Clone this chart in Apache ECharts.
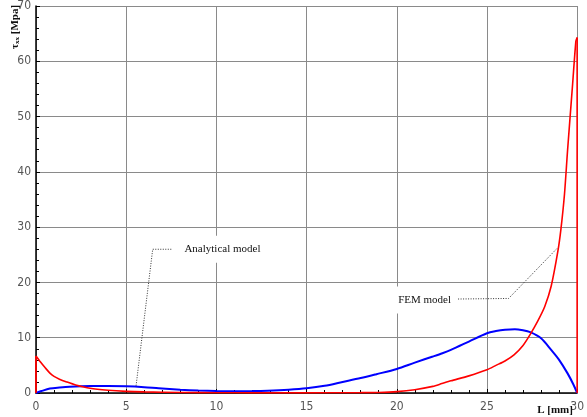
<!DOCTYPE html>
<html>
<head>
<meta charset="utf-8">
<script src="https://cdn.jsdelivr.net/npm/echarts@6/dist/echarts.min.js"></script>
<style>html,body{margin:0;padding:0;background:#fff}#c{width:587px;height:417px}</style>
</head>
<body>
<div id="c"></div>
<script>
// ---- data ----
var xTicks = [0, 5, 10, 15, 20, 25, 30];
var yTicks = [0, 10, 20, 30, 40, 50, 60, 70];

// red curve (L [mm], tau [MPa]) : vertical start, main curve, vertical end
var redStartX = [0, 0];
var redStartY = [0, 6.7];
var redX = [0, 0.25, 0.5, 0.77, 1.0, 1.3, 1.7, 2.2, 3.0, 4.0, 5.0, 6.0, 8.0, 10, 12, 15, 18, 19, 20, 21, 22, 22.5, 23, 24, 25, 25.5, 26, 26.5, 27, 27.4, 27.8, 28.2, 28.56, 28.93, 29.1, 29.3, 29.47, 29.75, 29.93, 30];
var redY = [6.7, 5.6, 4.6, 3.6, 3.0, 2.5, 2.0, 1.45, 0.85, 0.5, 0.3, 0.2, 0.1, 0.05, 0.03, 0.03, 0.06, 0.1, 0.25, 0.6, 1.2, 1.7, 2.2, 3.1, 4.2, 5.0, 5.8, 6.9, 8.6, 10.6, 12.9, 15.6, 19.3, 25.6, 29.6, 36.0, 43.9, 55.9, 63.6, 64.3];
var redEndX = [30, 30];
var redEndY = [64.3, 0];

// blue curve
var blueX = [0, 0.3, 0.77, 1.3, 1.87, 3, 4, 5, 6, 6.8, 8, 9, 10, 11, 12, 12.84, 14, 15, 16, 17, 18, 18.87, 20, 21, 22, 22.53, 23, 24, 25, 25.5, 26, 26.55, 27, 27.4, 28, 28.56, 29, 29.47, 29.8, 30];
var blueY = [0, 0.35, 0.8, 1.0, 1.15, 1.25, 1.25, 1.2, 1.05, 0.85, 0.6, 0.45, 0.36, 0.32, 0.35, 0.42, 0.6, 0.85, 1.3, 2.0, 2.7, 3.4, 4.35, 5.5, 6.6, 7.2, 7.8, 9.3, 10.8, 11.2, 11.45, 11.55, 11.35, 11.0, 9.9, 7.8, 6.0, 3.55, 1.5, 0];

// annotations (data coordinates)
var analyticalText = 'Analytical model';
var analyticalAnchor = [7.95, 26];
var analyticalLeader = [[7.5, 26], [6.47, 26], [5.54, 1.1]];
var femText = 'FEM model';
var femAnchor = [19.8, 16.8];
var femLeader = [[23.4, 17], [26.2, 17.1], [28.9, 26.2]];

function zip(xs, ys) { var o = []; for (var i = 0; i < xs.length; i++) o.push([xs[i], ys[i]]); return o; }

var chart = echarts.init(document.getElementById('c'), null, {renderer: 'canvas'});
var tickFont = {fontFamily: 'Liberation Sans Narrow, DejaVu Sans Condensed, sans-serif', fontSize: 12, color: '#555'};

function line(data, color, width, smooth, z) {
  return {type: 'line', data: data, showSymbol: false, symbol: 'none', smooth: smooth,
    lineStyle: {color: color, width: width}, z: z};
}

chart.setOption({
  animation: false,
  backgroundColor: '#fff',
  grid: {left: 36, right: 4, top: 5, bottom: 24, containLabel: false},
  xAxis: {
    type: 'value', min: xTicks[0], max: xTicks[xTicks.length - 1], interval: 5,
    axisLine: {show: true, onZero: false, lineStyle: {color: '#000', width: 1.5}},
    axisTick: {show: true, inside: true, length: 4, lineStyle: {color: '#000'}},
    minorTick: {show: true, splitNumber: 5, length: 3, lineStyle: {color: '#000'}},
    splitLine: {show: true, lineStyle: {color: '#8a8a8a', width: 1}},
    axisLabel: Object.assign({margin: 8, showMinLabel: true, showMaxLabel: true}, tickFont)
  },
  yAxis: {
    type: 'value', min: yTicks[0], max: yTicks[yTicks.length - 1], interval: 10,
    axisLine: {show: true, onZero: false, lineStyle: {color: '#000', width: 1.5}},
    axisTick: {show: true, inside: true, length: 4, lineStyle: {color: '#000'}},
    minorTick: {show: true, splitNumber: 5, length: 3, lineStyle: {color: '#000'}},
    splitLine: {show: true, lineStyle: {color: '#8a8a8a', width: 1}},
    axisLabel: Object.assign({margin: 5}, tickFont)
  },
  series: [
    line(zip(blueX, blueY), '#0000ff', 2, 0.3, 3),
    line(zip(redStartX, redStartY), '#ff0000', 1.8, false, 4),
    line(zip(redX, redY), '#ff0000', 1.6, 0.25, 4),
    line(zip(redEndX, redEndY), '#ff0000', 1.6, false, 4)
  ]
});

function px(p) { return chart.convertToPixel({gridIndex: 0}, p); }
function leader(pts) {
  return {type: 'polyline', silent: true, z: 20,
    shape: {points: pts.map(px)},
    style: {stroke: '#333', lineWidth: 1, lineDash: [1, 1.5], fill: null}};
}
var aPos = px(analyticalAnchor), fPos = px(femAnchor);
var labelStyle = {fill: '#111', font: '11px "Liberation Serif", "Times New Roman", serif',
  backgroundColor: '#fff', padding: [6, 5, 10, 5], verticalAlign: 'middle', align: 'left'};
var origin = px([0, 0]);
chart.setOption({
  graphic: [
    leader(analyticalLeader),
    leader(femLeader),
    {type: 'text', z: 21, x: aPos[0], y: aPos[1], style: Object.assign({text: analyticalText}, labelStyle)},
    {type: 'text', z: 21, x: fPos[0], y: fPos[1], style: Object.assign({text: femText}, labelStyle)},
    {type: 'text', z: 21, x: 555, y: origin[1] + 17,
     style: {text: 'L [mm]', fill: '#111', font: 'bold 11px "Liberation Serif", serif', align: 'center', verticalAlign: 'middle'}},
    {type: 'text', z: 21, x: 15, y: 27, rotation: Math.PI / 2,
     style: {text: '{t|τ}{s|xx}{t| [Mpa]}', align: 'center', verticalAlign: 'middle',
       rich: {t: {fill: '#111', font: 'bold 11px "Liberation Serif", serif'},
              s: {fill: '#111', font: 'bold 7px "Liberation Serif", serif', padding: [5, 0, 0, 0]}}}}
  ]
});
</script>
</body>
</html>
